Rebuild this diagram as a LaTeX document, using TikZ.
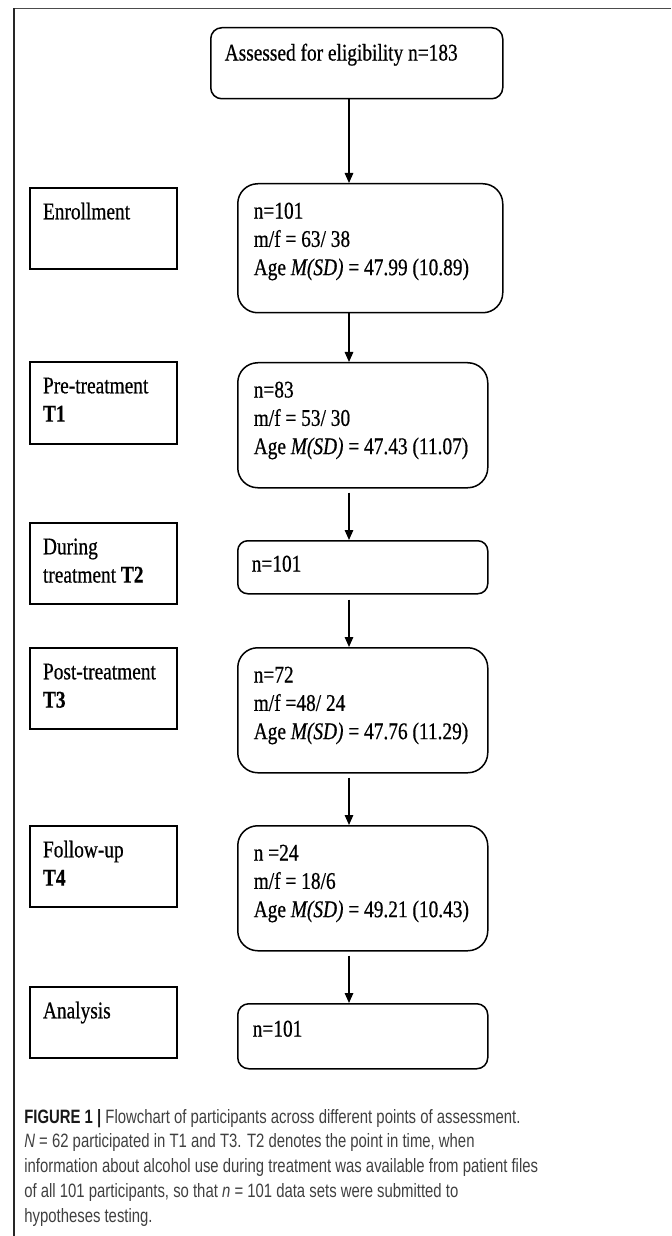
\documentclass[tikz,border=0pt]{standalone}
\usepackage{fontspec}
\setmainfont[FakeStretch=0.81,FakeBold=0.6]{Liberation Serif}
\newfontfamily\capfont{Liberation Sans}
\usetikzlibrary{arrows.meta}

% text of a box: width, height, lines (top aligned)
\newcommand{\cell}[3]{\parbox[t][#2][t]{#1}{\strut #3}}

\tikzset{
  stage/.style={draw, line width=0.04cm, anchor=north west, inner xsep=0.26cm, inner ysep=0.23cm,
    font=\fontsize{13.6pt}{16.1pt}\selectfont},
  count/.style={draw, line width=0.03cm, anchor=north west, inner xsep=0.32cm, inner ysep=0.30cm,
    rounded corners=0.4cm, font=\fontsize{13.6pt}{16.1pt}\selectfont},
  flow/.style={-{Triangle[length=0.2cm,width=0.17cm]}, line width=0.03cm},
}

\begin{document}
\begin{tikzpicture}

\useasboundingbox (0,0) rectangle (13.42,-24.72);

% frame
\draw [black!70, line width=0.03cm] (0.28,-0.17) -- (13.42,-0.17);
\draw [black!85, line width=0.03cm] (0.28,-0.17) -- (0.28,-24.72);

% right column
\node [count, inner xsep=0.28cm, inner ysep=0.26cm, rounded corners=0.22cm] (assess) at (4.2,-0.54)
  {\cell{5.28cm}{0.90cm}{Assessed for eligibility n=183}};
\node [count] (enrolldata) at (4.74,-3.66)
  {\cell{4.66cm}{1.98cm}{n=101\\ m/f = 63/ 38\\ Age \textit{M(SD)} = 47.99 (10.89)}};
\node [count] (predata) at (4.74,-7.24)
  {\cell{4.36cm}{1.90cm}{n=83\\ m/f = 53/ 30\\ Age \textit{M(SD)} = 47.43 (11.07)}};
\node [count, inner xsep=0.28cm, inner ysep=0.22cm, rounded corners=0.2cm] (duringdata) at (4.74,-10.8)
  {\cell{4.44cm}{0.62cm}{n=101}};
\node [count] (postdata) at (4.74,-12.94)
  {\cell{4.36cm}{1.90cm}{n=72\\ m/f =48/ 24\\ Age \textit{M(SD)} = 47.76 (11.29)}};
\node [count] (followdata) at (4.74,-16.5)
  {\cell{4.36cm}{1.90cm}{n =24\\ m/f = 18/6\\ Age \textit{M(SD)} = 49.21 (10.43)}};
\node [count, inner xsep=0.30cm, inner ysep=0.26cm, rounded corners=0.22cm] (analysisdata) at (4.74,-20.06)
  {\cell{4.40cm}{0.78cm}{n=101}};

% left column
\node [stage] (enroll) at (0.58,-3.74) {\cell{2.42cm}{1.16cm}{Enrollment}};
\node [stage] (pre) at (0.58,-7.22) {\cell{2.42cm}{1.18cm}{Pre-treatment\\ \textbf{T1}}};
\node [stage] (during) at (0.58,-10.44) {\cell{2.42cm}{1.16cm}{During\\ treatment \textbf{T2}}};
\node [stage] (post) at (0.58,-12.94) {\cell{2.42cm}{1.16cm}{Post-treatment\\ \textbf{T3}}};
\node [stage] (follow) at (0.58,-16.5) {\cell{2.42cm}{1.16cm}{Follow-up\\ \,\textbf{T4}}};
\node [stage] (analysis) at (0.58,-19.72) {\cell{2.42cm}{0.96cm}{Analysis}};

% arrows
\coordinate (axis) at (6.98,0);
\draw [flow] (assess.south -| axis) -- (enrolldata.north -| axis);
\draw [flow] (enrolldata.south -| axis) -- (predata.north -| axis);
\draw [flow, shorten <=0.08cm] (predata.south -| axis) -- (duringdata.north -| axis);
\draw [flow, shorten <=0.1cm] (duringdata.south -| axis) -- (postdata.north -| axis);
\draw [flow, shorten <=0.08cm] (postdata.south -| axis) -- (followdata.north -| axis);
\draw [flow, shorten <=0.08cm] (followdata.south -| axis) -- (analysisdata.north -| axis);

% caption
\node [anchor=base west, inner sep=0, text=black!75,
  font=\capfont\fontsize{11pt}{14.2pt}\selectfont] (caption) at (0.48,-22.46)
  {\scalebox{0.77}[1]{\parbox[t]{17cm}{\raggedright
   \textcolor{black!90}{\textbf{FIGURE 1 |}} Flowchart of participants across different points of assessment.\\
   \textit{N} = 62 participated in T1 and T3. T2 denotes the point in time, when\\
   information about alcohol use during treatment was available from patient files\\
   of all 101 participants, so that \textit{n} = 101 data sets were submitted to\\
   hypotheses testing.}}};

\end{tikzpicture}
\end{document}
